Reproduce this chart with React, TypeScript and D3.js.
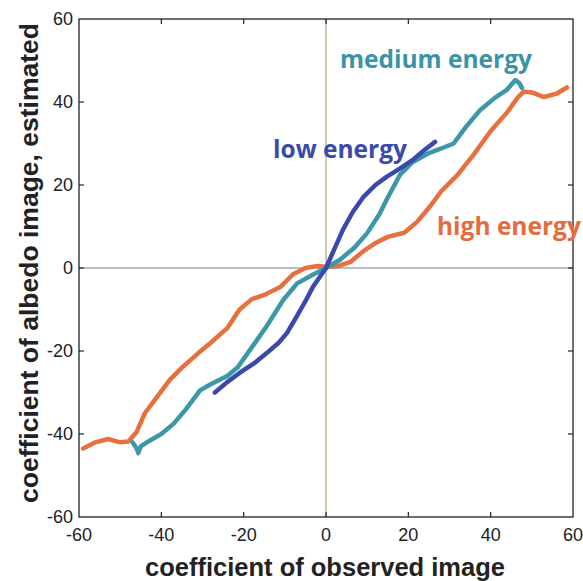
import React from "react";
import * as d3 from "d3";

const tickValues = [-60, -40, -20, 0, 20, 40, 60];

const highX = [-59, -56, -53, -50, -48, -46, -44, -41, -38, -35, -31, -28, -24, -21, -18, -15, -11, -8, -5, -2, 0, 3, 6, 9, 12, 15, 19, 22, 25, 28, 32, 36, 40, 44, 46.5, 48, 50, 53, 56, 58.5];
const highY = [-43.5, -42, -41.2, -42, -41.8, -39.5, -35, -31, -27, -24, -20.5, -18, -14.5, -10, -7.5, -6.5, -4.5, -1.5, 0, 0.5, 0.3, 0.5, 1.5, 4, 6, 7.5, 8.5, 11, 14.5, 18.5, 22.5, 27.5, 33, 37.5, 41, 42.5, 42.3, 41.2, 42, 43.5];

const medX = [-47, -46, -45.6, -45, -43.5, -40, -37, -34, -30.6, -28, -24, -21.5, -18.5, -14.4, -10.4, -7, -3, 0, 3.4, 7, 10, 13, 15, 18, 21, 25, 28, 31, 34, 37.4, 41, 44, 46, 47, 47.6];
const medY = [-42, -43.5, -44.6, -43, -42, -40, -37.5, -34, -29.5, -28, -26, -24, -19.8, -14, -7.7, -3.7, -1.5, 0, 2, 5, 8.4, 13, 17, 22.5, 25.5, 27.7, 28.8, 30, 34, 38, 41, 43, 45.3, 44.5, 43.4];

const lowX = [-27, -24, -21, -17.5, -14.4, -11.5, -9.5, -7, -5, -3.2, 0, 2, 4.1, 6.5, 9, 12, 14.8, 18, 21, 24, 26.5];
const lowY = [-30, -27.5, -25.3, -23, -20.5, -18, -15.7, -11.5, -8, -4.6, 0, 4.5, 9.2, 13.5, 17, 20, 22, 24, 26, 28.5, 30.4];

const series = [
  { name: "high energy", xs: highX, ys: highY, color: "#e8703c" },
  { name: "medium energy", xs: medX, ys: medY, color: "#3c97a8" },
  { name: "low energy", xs: lowX, ys: lowY, color: "#3b48ae" },
];

const labels = [
  { text: "medium energy", x: 340, y: 68, color: "#3a93a6" },
  { text: "low energy", x: 273, y: 158, color: "#3a49ad" },
  { text: "high energy", x: 437, y: 235, color: "#e56c3c" },
];

export default function App() {
  const W = 583, H = 581;
  const x = d3.scaleLinear().domain([-60, 60]).range([79, 573]);
  const y = d3.scaleLinear().domain([-60, 60]).range([517, 19]);
  const line = d3.line<[number, number]>().x(d => x(d[0])).y(d => y(d[1]));
  const tickFont = "'Liberation Sans Narrow', 'Liberation Sans', Arial, sans-serif";
  return (
    <svg width={W} height={H} style={{ position: "absolute", left: 0, top: 0, background: "#fff" }}>
      <rect x={0} y={0} width={W} height={H} fill="#fff" />
      {/* zero lines */}
      <line x1={x(-60)} x2={x(60)} y1={y(0)} y2={y(0)} stroke="#6d7a95" strokeWidth={1} />
      <line x1={x(0)} x2={x(0)} y1={y(60)} y2={y(-60)} stroke="#8c9a5c" strokeWidth={1} />
      {/* curves */}
      {series.map(s => (
        <path key={s.name} d={line(s.xs.map((v, i) => [v, s.ys[i]] as [number, number])) || ""}
          fill="none" stroke={s.color} strokeWidth={4.5} strokeLinejoin="round" strokeLinecap="round" />
      ))}
      {/* box */}
      <rect x={x(-60)} y={y(60)} width={x(60) - x(-60)} height={y(-60) - y(60)} fill="none" stroke="#222" strokeWidth={1.3} />
      {tickValues.slice(1, -1).map(t => (
        <g key={"t" + t} stroke="#222" strokeWidth={1.2}>
          <line x1={x(t)} x2={x(t)} y1={y(-60)} y2={y(-60) - 5} />
          <line x1={x(t)} x2={x(t)} y1={y(60)} y2={y(60) + 5} />
          <line x1={x(-60)} x2={x(-60) + 5} y1={y(t)} y2={y(t)} />
          <line x1={x(60)} x2={x(60) - 5} y1={y(t)} y2={y(t)} />
        </g>
      ))}
      {tickValues.map(t => (
        <text key={"xl" + t} x={x(t)} y={541} textAnchor="middle" fontFamily={tickFont} fontSize={18} fill="#222">{t}</text>
      ))}
      {tickValues.map(t => (
        <text key={"yl" + t} x={73} y={y(t)} dy="0.35em" textAnchor="end" fontFamily={tickFont} fontSize={18} fill="#222">{t}</text>
      ))}
      {/* axis titles */}
      <text x={325} y={576} textAnchor="middle" fontFamily="'Liberation Sans', Arial, sans-serif" fontWeight="bold" fontSize={25.5} fill="#222">coefficient of observed image</text>
      <text transform={`translate(38,263) rotate(-90)`} textAnchor="middle" fontFamily="'Liberation Sans', Arial, sans-serif" fontWeight="bold" fontSize={26.5} fill="#222">coefficient of albedo image, estimated</text>
      {/* curve labels */}
      {labels.map(l => (
        <text key={l.text} x={l.x} y={l.y} fontFamily="'Open Sans', sans-serif" fontWeight="bold" fontSize={24.5} fill={l.color}>{l.text}</text>
      ))}
    </svg>
  );
}
